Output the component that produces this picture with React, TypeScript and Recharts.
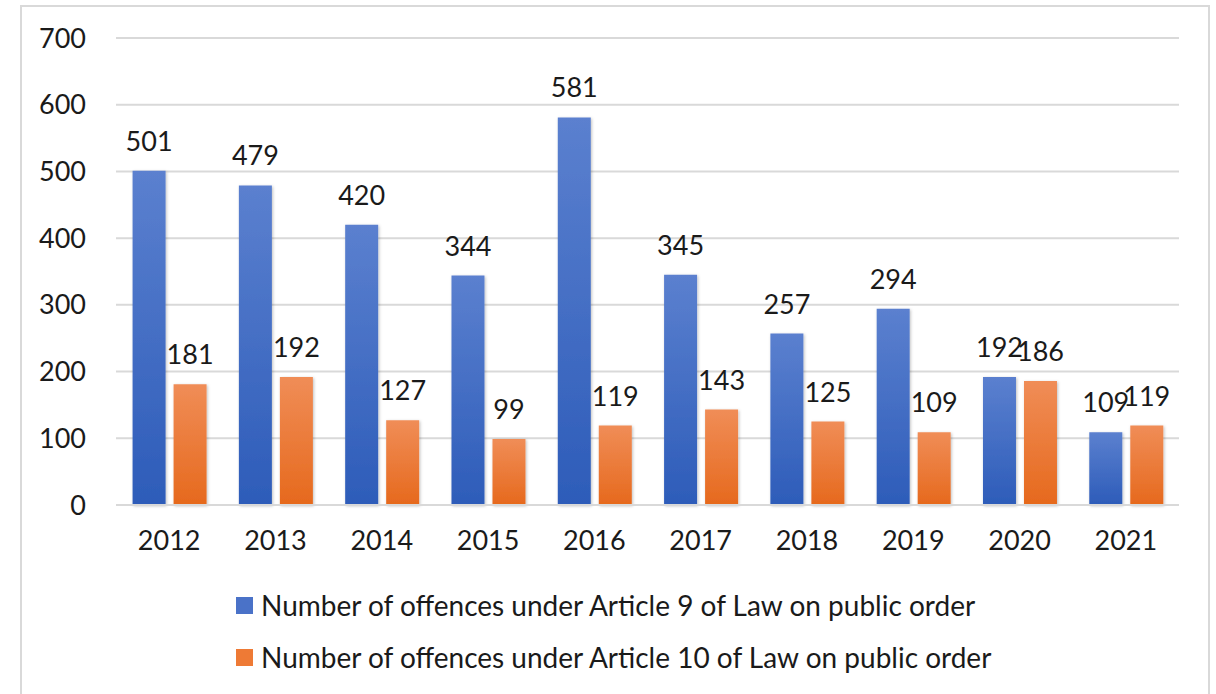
import React from 'react';
import { BarChart, Bar, XAxis, YAxis, CartesianGrid, LabelList, Legend } from 'recharts';

const years = ['2012', '2013', '2014', '2015', '2016', '2017', '2018', '2019', '2020', '2021'];
const article9 = [501, 479, 420, 344, 581, 345, 257, 294, 192, 109];
const article10 = [181, 192, 127, 99, 119, 143, 125, 109, 186, 119];
const seriesNames = [
  'Number of offences under Article 9 of Law on public order',
  'Number of offences under Article 10 of Law on public order',
];
const yTicks = [0, 100, 200, 300, 400, 500, 600, 700];

const FONT = 'Lato, "Noto Sans", sans-serif';
const legendColors = ['#4a72c8', '#ee7a35'];

const data = years.map((y, i) => ({ year: y, a9: article9[i], a10: article10[i] }));

function LegendBox() {
  return (
    <div style={{ paddingLeft: 214, fontFamily: FONT, fontSize: 28, color: '#1a1a1a' }}>
      {seriesNames.map((name, i) => (
        <div key={name} style={{ display: 'flex', alignItems: 'center', height: 52 }}>
          <span style={{ width: 17, height: 17, background: legendColors[i], marginRight: 8, display: 'inline-block' }} />
          <span>{name}</span>
        </div>
      ))}
    </div>
  );
}

export default function App() {
  return (
    <div
      style={{
        position: 'absolute',
        left: 20,
        top: 5,
        width: 1186,
        height: 700,
        border: '2px solid #d9d9d9',
        background: '#fff',
      }}
    >
      <BarChart
        width={1186}
        height={690}
        data={data}
        margin={{ top: 31, right: 29, left: 0, bottom: 28 }}
        barCategoryGap="15.6%"
        barGap={8}
      >
        <defs>
          <linearGradient id="gBlue" x1="0" y1="0" x2="0" y2="1">
            <stop offset="0%" stopColor="#5b80cf" />
            <stop offset="100%" stopColor="#2d5cb9" />
          </linearGradient>
          <linearGradient id="gOrange" x1="0" y1="0" x2="0" y2="1">
            <stop offset="0%" stopColor="#f08d57" />
            <stop offset="100%" stopColor="#e6691d" />
          </linearGradient>
          <filter id="shadow" x="-20%" y="-5%" width="140%" height="110%">
            <feDropShadow dx="1" dy="1" stdDeviation="1.5" floodColor="#000" floodOpacity="0.25" />
          </filter>
        </defs>
        <CartesianGrid vertical={false} stroke="#d9d9d9" strokeWidth={2} />
        <XAxis
          dataKey="year"
          axisLine={{ stroke: '#d9d9d9', strokeWidth: 2 }}
          tickLine={false}
          tickMargin={20}
          height={60}
          tick={{ fill: '#1a1a1a', fontSize: 27, fontFamily: FONT }}
        />
        <YAxis
          domain={[0, 700]}
          ticks={yTicks}
          width={94}
          axisLine={false}
          tickLine={false}
          tickMargin={24}
          tick={{ fill: '#1a1a1a', fontSize: 27, fontFamily: FONT }}
        />
        <Legend verticalAlign="bottom" align="left" content={<LegendBox />} wrapperStyle={{ bottom: 14 }} />
        <Bar dataKey="a9" name={seriesNames[0]} fill="url(#gBlue)" filter="url(#shadow)" isAnimationActive={false}>
          <LabelList dataKey="a9" position="top" offset={20} fill="#1a1a1a" fontSize={27} fontFamily={FONT} />
        </Bar>
        <Bar dataKey="a10" name={seriesNames[1]} fill="url(#gOrange)" filter="url(#shadow)" isAnimationActive={false}>
          <LabelList dataKey="a10" position="top" offset={20} fill="#1a1a1a" fontSize={27} fontFamily={FONT} />
        </Bar>
      </BarChart>
    </div>
  );
}
